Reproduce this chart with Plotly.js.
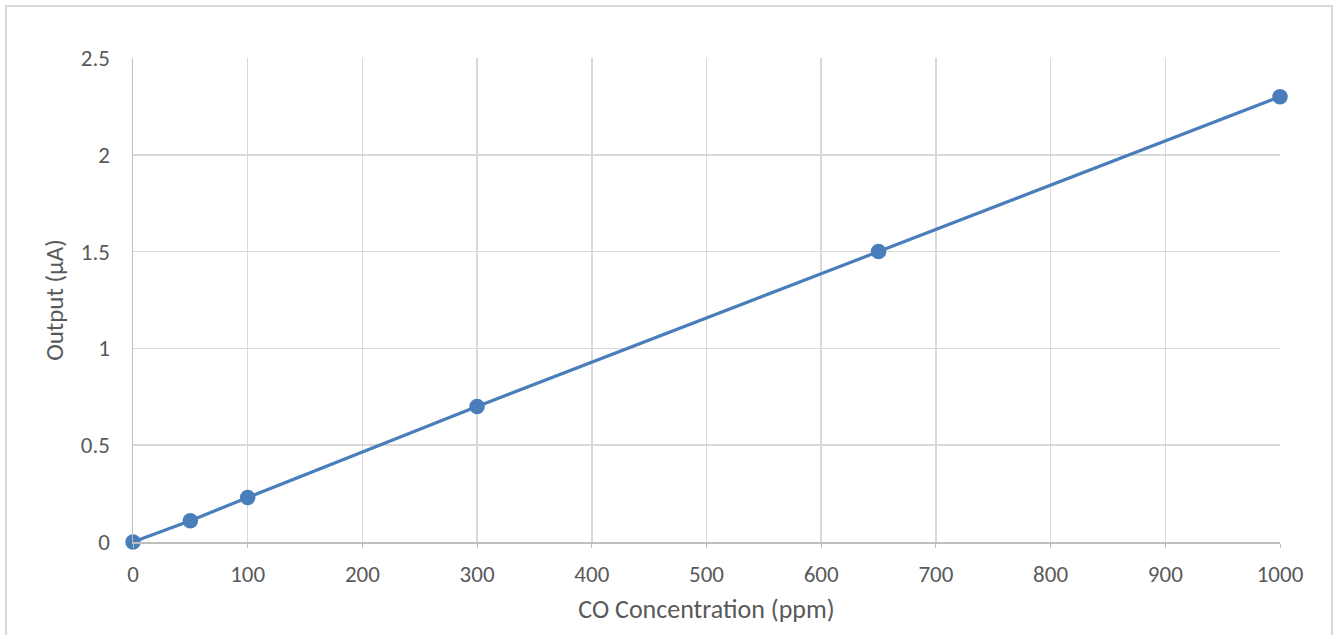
<!DOCTYPE html>
<html>
<head>
<meta charset="utf-8">
<script src="https://cdn.plot.ly/plotly-3.0.1.min.js"></script>
<style>
html,body{margin:0;padding:0;overflow:hidden;background:#fff;}
#wrap{position:relative;width:1333px;height:635px;}
#chart{position:absolute;left:0;top:0;width:1333px;height:635px;}
#frame{position:absolute;left:5px;top:5px;width:1324px;height:660px;border:2px solid #d9d9d9;pointer-events:none;}
</style>
</head>
<body>
<div id="wrap"><div id="chart"></div><div id="frame"></div></div>
<script>
const concentration = [0, 50, 100, 300, 650, 1000];
const output = [0, 0.11, 0.23, 0.7, 1.5, 2.3];
const xTicks = [0, 100, 200, 300, 400, 500, 600, 700, 800, 900, 1000];
const yTicks = [0, 0.5, 1, 1.5, 2, 2.5];

const fontFam = 'Carlito, "Open Sans", "Liberation Sans", sans-serif';
const trace = {
  x: concentration, y: output, type: 'scatter', mode: 'lines+markers',
  line: {color: '#4a7ebb', width: 3.2},
  marker: {color: '#4a7ebb', size: 15.5},
  cliponaxis: false,
  hoverinfo: 'skip'
};
const layout = {
  width: 1333, height: 635,
  margin: {l: 133, r: 53, t: 58, b: 93},
  paper_bgcolor: '#fff', plot_bgcolor: '#fff',
  showlegend: false,
  font: {family: fontFam, color: '#595959', size: 23},
  xaxis: {
    range: [0, 1000], tickvals: xTicks, ticktext: xTicks.map(String),
    showgrid: true, gridcolor: '#d9d9d9', gridwidth: 1.5,
    showline: true, linecolor: '#bfbfbf', linewidth: 1.5,
    zeroline: false, ticks: 'outside', ticklen: 4, tickcolor: '#bfbfbf',
    ticklabelstandoff: 7,
    tickfont: {size: 23, color: '#595959'},
    title: {text: 'CO Concentration (ppm)', font: {size: 26, color: '#595959'}, standoff: 12}
  },
  yaxis: {
    range: [0, 2.5], tickvals: yTicks, ticktext: yTicks.map(String),
    showgrid: true, gridcolor: '#d9d9d9', gridwidth: 1.5,
    showline: true, linecolor: '#bfbfbf', linewidth: 1.5,
    zeroline: false, ticks: '', ticklen: 0,
    ticklabelstandoff: 17,
    tickfont: {size: 23, color: '#595959'},
    title: {text: 'Output (µA)', font: {size: 25, color: '#595959'}, standoff: 10}
  }
};
Plotly.newPlot('chart', [trace], layout, {displayModeBar: false, staticPlot: true});
</script>
</body>
</html>
